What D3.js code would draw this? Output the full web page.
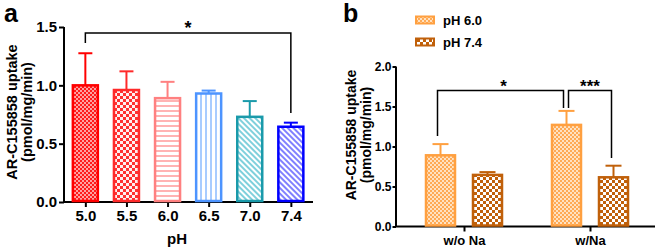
<!DOCTYPE html>
<html><head><meta charset="utf-8">
<script src="https://cdn.jsdelivr.net/npm/d3@7"></script>
<style>body{margin:0;background:#fff}svg{display:block;font-family:"Liberation Sans",Arial,sans-serif;font-weight:bold}</style>
</head><body>
<svg id="c" width="658" height="252"></svg>
<script>
// Panel a data
const phCats = ["5.0","5.5","6.0","6.5","7.0","7.4"];
const phMeans = [1.00, 0.96, 0.89, 0.93, 0.73, 0.645];
const phErrTop = [1.275, 1.12, 1.03, 0.955, 0.865, 0.68];
const aTicks = [0.0, 0.5, 1.0, 1.5];
// Panel b data
const naGroups = ["w/o Na", "w/Na"];
const naSeries = ["pH 6.0", "pH 7.4"];
const naMeans = [[0.89, 0.645], [1.27, 0.615]];
const naErrTop = [[1.03, 0.68], [1.445, 0.76]];
const bTicks = [0.0, 0.5, 1.0, 1.5, 2.0];

const svg = d3.select("#c");
const defs = svg.append("defs");
function checker(id, size, c1, c2){
  const p = defs.append("pattern").attr("id",id).attr("width",size*2).attr("height",size*2).attr("patternUnits","userSpaceOnUse");
  p.append("rect").attr("width",size*2).attr("height",size*2).attr("fill",c2);
  p.append("rect").attr("width",size).attr("height",size).attr("fill",c1);
  p.append("rect").attr("x",size).attr("y",size).attr("width",size).attr("height",size).attr("fill",c1);
}
function lines(id, period, w, c, orient){
  const p = defs.append("pattern").attr("id",id).attr("width",period).attr("height",period).attr("patternUnits","userSpaceOnUse");
  if(orient==="d") p.attr("patternTransform","rotate(-45)");
  p.append("rect").attr("width",period).attr("height",period).attr("fill","#fff");
  if(orient==="h") p.append("rect").attr("width",period).attr("height",w).attr("fill",c);
  else p.append("rect").attr("width",w).attr("height",period).attr("fill",c);
}
checker("p0",2,"#ff1a1a","#ffa0a0");
checker("p1",3,"#ff3030","#fff0f0");
lines("p2",5,2,"#ffb3b3","h");
lines("p3",5,2,"#a8ccff","v");
lines("p4",4,2,"#7fd0dc","d");
lines("p5",4,2,"#8080ff","d");
checker("q0",2,"#ffaa55","#ffe2c2");
checker("q1",3,"#c0600a","#ffffff");
const aColors = ["#ff0000","#ff2a2a","#ff8080","#4d94ff","#1a9aaa","#0000ff"];
const aFills = ["p0","p1","p2","p3","p4","p5"];
const bColors = ["#ffa040","#c0600a"];
const bFills = ["q0","q1"];
const FF = "Liberation Sans, Arial";

// ---------- Panel a ----------
const ya = d3.scaleLinear().domain([0,1.5]).range([202,27]);
const xa = d3.scalePoint().domain(phCats).range([64.8,311.4]).padding(0.5);
const ga = svg.append("g");
ga.append("g").attr("transform","translate(64,0)")
  .call(d3.axisLeft(ya).tickValues(aTicks).tickFormat(d3.format(".1f")).tickSize(5))
  .call(g=>{g.select(".domain").attr("stroke","#000").attr("stroke-width",2).attr("d","M0,202V27");
    g.selectAll(".tick line").attr("stroke-width",2);
    g.selectAll("text").attr("font-size",15).attr("font-weight","bold").attr("font-family",FF).attr("fill","#000").attr("x",-7);});
ga.append("g").attr("transform","translate(0,202)")
  .call(d3.axisBottom(xa).tickSize(5))
  .call(g=>{g.select(".domain").attr("stroke-width",2).attr("d","M64,0H313");
    g.selectAll(".tick line").attr("stroke-width",2);
    g.selectAll("text").attr("font-size",15).attr("font-weight","bold").attr("font-family",FF).attr("fill","#000").attr("y",8);});
const bwA = 25;
phCats.forEach((c,i)=>{
  const cx = xa(c);
  ga.append("line").attr("x1",cx).attr("x2",cx).attr("y1",ya(phMeans[i])).attr("y2",ya(phErrTop[i])).attr("stroke",aColors[i]).attr("stroke-width",2);
  ga.append("line").attr("x1",cx-7).attr("x2",cx+7).attr("y1",ya(phErrTop[i])).attr("y2",ya(phErrTop[i])).attr("stroke",aColors[i]).attr("stroke-width",2);
  ga.append("rect").attr("x",cx-bwA/2).attr("width",bwA).attr("y",ya(phMeans[i])).attr("height",ya(0)-ya(phMeans[i])-1)
    .attr("fill",`url(#${aFills[i]})`).attr("stroke",aColors[i]).attr("stroke-width",2.5);
});
// bracket
{
  const x1 = xa("5.0"), x2 = xa("7.4"), yt = 33;
  ga.append("path").attr("d",`M${x1},43V${yt}H${x2}V113`).attr("fill","none").attr("stroke","#000").attr("stroke-width",1.5);
  ga.append("text").attr("x",(x1+x2)/2).attr("y",34).attr("text-anchor","middle").attr("font-size",18).text("*");
}
ga.append("text").attr("x",177).attr("y",244).attr("text-anchor","middle").attr("font-size",15).text("pH");
ga.append("text").attr("transform","translate(17,112) rotate(-90)").attr("text-anchor","middle").attr("font-size",14.5).text("AR-C155858 uptake");
ga.append("text").attr("transform","translate(32,112) rotate(-90)").attr("text-anchor","middle").attr("font-size",14.5).text("(pmol/mg/min)");
ga.append("text").attr("x",4).attr("y",22).attr("font-size",25).text("a");

// ---------- Panel b ----------
const yb = d3.scaleLinear().domain([0,2]).range([226.5,66.5]);
const xb = d3.scalePoint().domain(naGroups).range([464,590]);
const xs = d3.scalePoint().domain(naSeries).range([-23.5,23.5]);
const gb = svg.append("g");
gb.append("g").attr("transform","translate(396,0)")
  .call(d3.axisLeft(yb).tickValues(bTicks).tickFormat(d3.format(".1f")).tickSize(3.5))
  .call(g=>{g.select(".domain").attr("stroke-width",2).attr("d","M0,226.5V66.5");
    g.selectAll(".tick line").attr("stroke-width",2);
    g.selectAll("text").attr("font-size",12).attr("font-weight","bold").attr("font-family",FF).attr("fill","#000").attr("x",-4.5);});
gb.append("g").attr("transform","translate(0,226.5)")
  .call(d3.axisBottom(xb).tickSize(5))
  .call(g=>{g.select(".domain").attr("stroke-width",2).attr("d","M396,0H655");
    g.selectAll(".tick line").attr("stroke-width",2);
    g.selectAll("text").attr("font-size",13).attr("font-weight","bold").attr("font-family",FF).attr("fill","#000").attr("y",9);});
const bwB = 29;
naGroups.forEach((grp,gi)=>{
  naSeries.forEach((s,si)=>{
    const cx = xb(grp)+xs(s), m = naMeans[gi][si], e = naErrTop[gi][si];
    gb.append("line").attr("x1",cx).attr("x2",cx).attr("y1",yb(m)).attr("y2",yb(e)).attr("stroke",bColors[si]).attr("stroke-width",2);
    gb.append("line").attr("x1",cx-8).attr("x2",cx+8).attr("y1",yb(e)).attr("y2",yb(e)).attr("stroke",bColors[si]).attr("stroke-width",2);
    gb.append("rect").attr("x",cx-bwB/2).attr("width",bwB).attr("y",yb(m)).attr("height",yb(0)-yb(m)-1)
      .attr("fill",`url(#${bFills[si]})`).attr("stroke",bColors[si]).attr("stroke-width",2.5);
  });
});
{
  const xA = xb("w/o Na")+xs("pH 6.0"), xB = xb("w/Na")+xs("pH 6.0"), xC = xb("w/Na")+xs("pH 7.4");
  gb.append("path").attr("d",`M${xA-3},136V90.5H${xB-3}V108`).attr("fill","none").attr("stroke","#000").attr("stroke-width",1.5);
  gb.append("path").attr("d",`M${xB+2},108V90.5H${xC-2}V158`).attr("fill","none").attr("stroke","#000").attr("stroke-width",1.5);
  gb.append("text").attr("x",(xA+xB)/2).attr("y",92).attr("text-anchor","middle").attr("font-size",17).text("*");
  gb.append("text").attr("x",(xB+xC)/2).attr("y",92).attr("text-anchor","middle").attr("font-size",17).text("***");
}
gb.append("text").attr("transform","translate(356,135) rotate(-90)").attr("text-anchor","middle").attr("font-size",14).text("AR-C155858 uptake");
gb.append("text").attr("transform","translate(371,135) rotate(-90)").attr("text-anchor","middle").attr("font-size",14).text("(pmol/mg/min)");
gb.append("text").attr("x",343).attr("y",22).attr("font-size",25).text("b");
naSeries.forEach((s,si)=>{
  const yy = 20 + si*22;
  gb.append("rect").attr("x",416).attr("y",yy-3.5).attr("width",18).attr("height",7).attr("fill",`url(#${bFills[si]})`).attr("stroke",bColors[si]).attr("stroke-width",2);
  gb.append("text").attr("x",443).attr("y",yy+4.5).attr("font-size",13).text(s);
});
</script>
</body></html>
